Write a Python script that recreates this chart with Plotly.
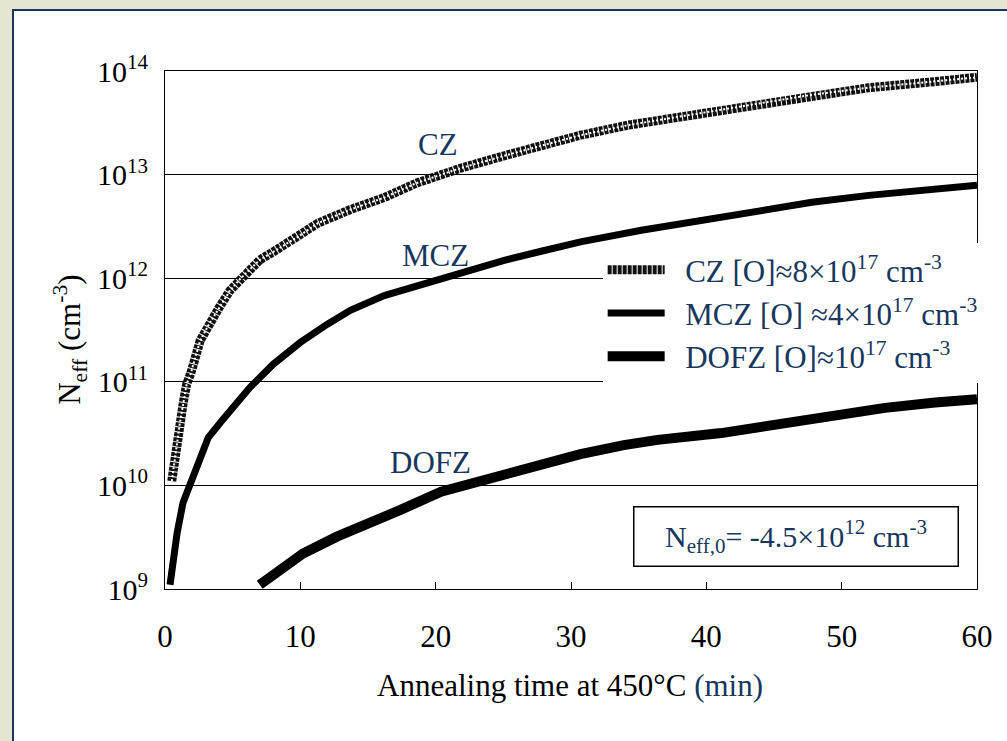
import plotly.graph_objects as go

# Annealing time (min) and effective doping N_eff (cm^-3) for each material
cz_time = [0.5, 0.7, 0.9, 1.1, 1.35, 1.6, 1.9, 2.6, 3.2, 4.0, 4.8, 5.6, 7.0, 8.3, 9.8,
           11.3, 13.7, 16.2, 18.6, 20.9, 22.0, 25.3, 30.7, 34.2, 41.1, 44.6, 47.8,
           52.0, 56.9, 60.0]
cz_neff = [1.1e10, 1.8e10, 2.6e10, 4.0e10, 6.3e10, 9.5e10, 1.2e11, 2.5e11, 3.5e11,
           5.2e11, 7.6e11, 1.0e12, 1.5e12, 1.9e12, 2.5e12, 3.4e12, 4.6e12, 6.0e12,
           8.3e12, 1.05e13, 1.17e13, 1.55e13, 2.4e13, 3.0e13, 4.2e13, 5.0e13, 5.9e13,
           6.9e13, 7.9e13, 8.7e13]

mcz_time = [0.37, 0.6, 0.9, 1.33, 1.85, 2.6, 3.2, 4.2, 5.3, 6.3, 8.0, 10.0, 12.0, 13.7,
            16.2, 18.6, 20.9, 25.0, 27.8, 30.7, 35.2, 39.6, 43.3, 47.8, 52.0, 56.9, 60.0]
mcz_neff = [1.1e9, 2.0e9, 3.5e9, 6.8e9, 1.05e10, 1.86e10, 2.9e10, 4.2e10, 6.3e10,
            8.9e10, 1.48e11, 2.4e11, 3.6e11, 4.9e11, 6.8e11, 8.5e11, 1.05e12, 1.48e12,
            1.82e12, 2.24e12, 2.9e12, 3.6e12, 4.3e12, 5.4e12, 6.3e12, 7.4e12, 7.9e12]

dofz_time = [7.0, 8.7, 10.2, 12.7, 15.0, 17.4, 20.4, 22.8, 25.3, 27.8, 30.7, 33.9, 36.4,
             41.1, 45.8, 49.5, 53.2, 56.9, 60.0]
dofz_neff = [1.1e9, 1.6e9, 2.2e9, 3.2e9, 4.4e9, 5.8e9, 8.7e9, 1.05e10, 1.35e10, 1.62e10,
             2.0e10, 2.45e10, 2.75e10, 3.2e10, 4.0e10, 4.8e10, 5.6e10, 6.3e10, 6.8e10]

legend_names = [
    "\u00a0\u00a0CZ [O]≈8×10<sup>17</sup> cm<sup>-3</sup>",
    "\u00a0\u00a0MCZ [O] ≈4×10<sup>17</sup> cm<sup>-3</sup>",
    "\u00a0\u00a0DOFZ [O]≈10<sup>17</sup> cm<sup>-3</sup>",
]
curve_labels = ["CZ", "MCZ", "DOFZ"]

x_ticks = [0, 10, 20, 30, 40, 50, 60]
y_ticks = [1e9, 1e10, 1e11, 1e12, 1e13, 1e14]
y_ticktext = ["10<sup>9</sup>", "10<sup>10</sup>", "10<sup>11</sup>",
              "10<sup>12</sup>", "10<sup>13</sup>", "10<sup>14</sup>"]

SERIF = "Liberation Serif"
NAVY = "#17375e"

fig = go.Figure()

# CZ: chain of hollow squares, drawn as a segmented dark band with light centres
fig.add_trace(go.Scatter(
    x=cz_time, y=cz_neff, mode="lines", name=legend_names[0],
    line=dict(color="#111111", width=9, dash="4px,1px"),
    legendgroup="cz",
))
fig.add_trace(go.Scatter(
    x=cz_time, y=cz_neff, mode="lines", showlegend=False, hoverinfo="skip",
    line=dict(color="white", width=2, dash="2px,2px"),
    legendgroup="cz",
))
fig.add_trace(go.Scatter(
    x=mcz_time, y=mcz_neff, mode="lines", name=legend_names[1],
    line=dict(color="black", width=7),
))
fig.add_trace(go.Scatter(
    x=dofz_time, y=dofz_neff, mode="lines", name=legend_names[2],
    line=dict(color="black", width=10),
))

# Curve labels
for text, xt, ylog in zip(curve_labels, [20.2, 20.0, 19.6], [13.29, 12.22, 10.22]):
    fig.add_annotation(x=xt, y=ylog, xref="x", yref="y", text=text, showarrow=False,
                       xanchor="center", yanchor="middle",
                       font=dict(family=SERIF, size=31, color=NAVY))

# Initial doping note
fig.add_annotation(
    x=0.7765, y=0.1023, xref="paper", yref="paper", showarrow=False,
    xanchor="center", yanchor="middle",
    text="N<sub>eff,0</sub>= -4.5×10<sup>12</sup> cm<sup>-3</sup>",
    font=dict(family=SERIF, size=30, color=NAVY),
    bgcolor="white", bordercolor="black", borderwidth=1.5, borderpad=4,
    width=315, height=50,
)

# Axis titles
fig.add_annotation(
    x=0.499, y=-0.187, xref="paper", yref="paper", showarrow=False,
    xanchor="center", yanchor="middle",
    text="Annealing time at 450°C <span style='color:%s'>(min)</span>" % NAVY,
    font=dict(family=SERIF, size=31, color="black"),
)
fig.add_annotation(
    x=-0.117, y=0.481, xref="paper", yref="paper", showarrow=False, textangle=-90,
    xanchor="center", yanchor="middle",
    text="N<sub>eff</sub> (cm<sup>-3</sup>)",
    font=dict(family=SERIF, size=31, color="black"),
)

# White panel with navy frame on the textured page
fig.add_shape(type="rect", xref="paper", yref="paper", layer="below",
              x0=-0.1872, x1=1.2, y0=-0.6, y1=1.1178,
              fillcolor="white", line=dict(color=NAVY, width=2))
# Blank area behind the legend, hiding the grid there
fig.add_shape(type="rect", xref="paper", yref="paper", layer="between",
              x0=0.539, x1=1.0, y0=0.396, y1=0.668,
              fillcolor="white", line=dict(width=0))

fig.update_xaxes(
    range=[0, 60], tickvals=x_ticks, showgrid=False, zeroline=False,
    showline=True, linecolor="black", linewidth=1, mirror=True,
    ticks="inside", ticklen=7, tickcolor="black",
    tickfont=dict(family=SERIF, size=31, color="black"), ticklabelstandoff=20,
)
fig.update_yaxes(
    type="log", range=[9, 14], tickvals=y_ticks, ticktext=y_ticktext,
    showgrid=True, gridcolor="black", gridwidth=1, zeroline=False,
    showline=True, linecolor="black", linewidth=1, mirror=True,
    ticks="", tickfont=dict(family=SERIF, size=30, color="black"),
    ticklabelstandoff=10,
)

fig.update_layout(
    width=1007, height=741,
    margin=dict(l=165, r=30, t=71, b=152),
    paper_bgcolor="#e6e4d2", plot_bgcolor="white",
    showlegend=True,
    legend=dict(
        x=0.539, y=0.668, xanchor="left", yanchor="top",
        bgcolor="white", borderwidth=0, itemwidth=57,
        font=dict(family=SERIF, size=31, color=NAVY),
        tracegroupgap=0,
    ),
)

fig.write_html("out.html")
